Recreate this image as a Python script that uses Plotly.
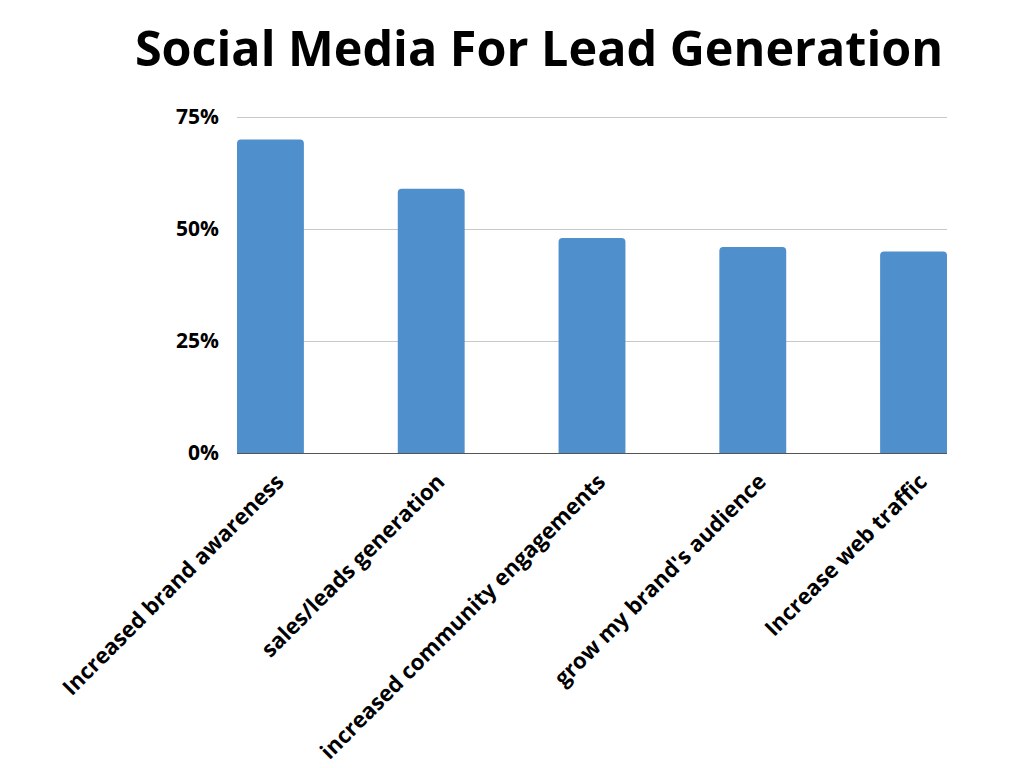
import plotly.graph_objects as go

categories = ["Increased brand awareness", "sales/leads generation",
              "increased community engagements", "grow my brand's audience",
              "Increase web traffic"]
values = [70, 59, 48, 46, 45]
tick_vals = [0, 25, 50, 75]
tick_text = ["0%", "25%", "50%", "75%"]

fig = go.Figure()
fig.add_trace(go.Bar(x=list(range(len(categories))), y=values,
                     marker=dict(color="#4F8FCC", line=dict(width=0)),
                     width=0.416))

fig.update_layout(
    width=1024, height=768,
    paper_bgcolor="white", plot_bgcolor="white",
    margin=dict(l=229, r=85, t=107, b=323),
    barcornerradius=4,
    showlegend=False,
    title=dict(text="<b>Social Media For Lead Generation</b>",
               x=531 / 1024, xref="container", xanchor="center",
               y=1 - 41 / 768, yref="container", yanchor="middle",
               font=dict(family="Open Sans", size=48.5, color="black")),
    font=dict(family="Open Sans", color="black"),
)
fig.update_xaxes(range=[-0.208, 4.208], tickmode="array",
                 tickvals=list(range(len(categories))), ticktext=categories,
                 tickangle=-45, showgrid=False, showline=True,
                 linecolor="#555555", linewidth=1, zeroline=False,
                 tickfont=dict(family="Open Sans", size=22, color="black", weight="bold"),
                 ticks="", ticklabelstandoff=6, ticklabelshift=7)
fig.update_yaxes(range=[0, 75.45], tickmode="array", tickvals=tick_vals,
                 ticktext=tick_text, showgrid=True, gridcolor="#C8C8C8",
                 gridwidth=1, zeroline=False, showline=False,
                 ticklabelstandoff=17,
                 tickfont=dict(family="Open Sans", size=21, color="black", weight="bold"))

fig.write_html("out.html")
